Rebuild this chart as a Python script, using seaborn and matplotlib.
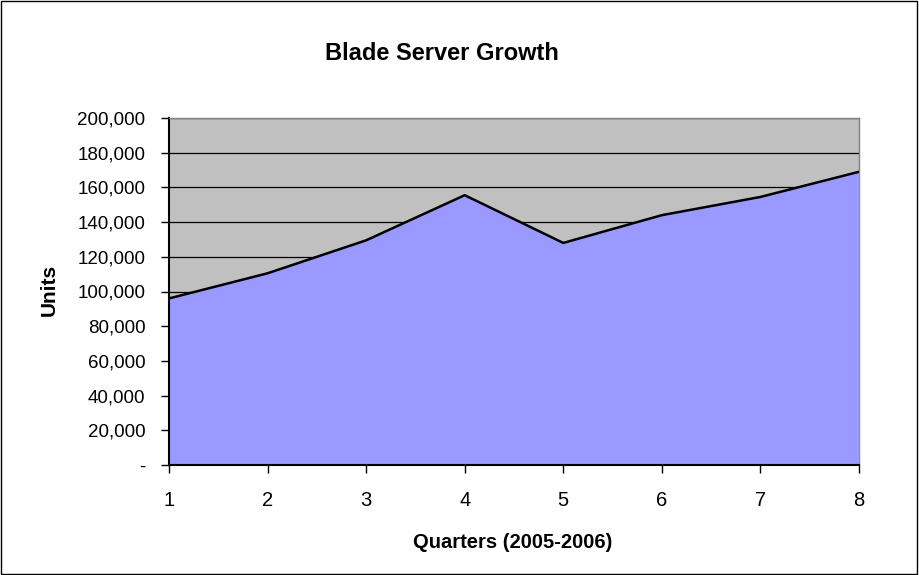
import matplotlib
matplotlib.use("Agg")
import matplotlib.pyplot as plt
import matplotlib.ticker as mticker
import seaborn as sns
import pandas as pd

# ── Data ──────────────────────────────────────────────────────────────────────
QUARTERS = [1, 2, 3, 4, 5, 6, 7, 8]
UNITS = [96000, 110500, 129500, 155500, 128000, 144000, 154500, 169000]
Y_TICKS = [0, 20000, 40000, 60000, 80000, 100000, 120000, 140000, 160000, 180000, 200000]

AREA_COLOR = "#9999FF"
PLOT_BG = "#C0C0C0"

sns.set_style("white")
plt.rcParams["font.family"] = ["Liberation Sans", "DejaVu Sans"]

df = pd.DataFrame({"quarter": QUARTERS, "units": UNITS})

fig = plt.figure(figsize=(9.19, 5.75), dpi=100)
ax = fig.add_axes([169 / 919, 110 / 575, 690 / 919, 347 / 575])
ax.set_facecolor(PLOT_BG)

ax.fill_between(df["quarter"], df["units"], 0, color=AREA_COLOR, zorder=2, linewidth=0)
sns.lineplot(data=df, x="quarter", y="units", color="black", linewidth=1.8, ax=ax, zorder=3)

ax.set_xlim(1, 8)
ax.set_ylim(0, 200000)
ax.set_xticks(QUARTERS)
ax.set_yticks(Y_TICKS)
ax.yaxis.set_major_formatter(
    mticker.FuncFormatter(lambda v, _: "-" if v == 0 else f"{int(v):,}")
)
for y in Y_TICKS[1:]:
    ax.axhline(y, color="black", linewidth=0.9, zorder=1)

ax.tick_params(axis="both", which="both", direction="out", length=6, width=1,
               color="black", labelcolor="black", pad=11, left=True, bottom=True)
ax.tick_params(axis="y", labelsize=13.5)
ax.tick_params(axis="x", labelsize=14.5, pad=13)

for side in ["top", "right"]:
    ax.spines[side].set_color("#808080")
    ax.spines[side].set_linewidth(1)
for side in ["left", "bottom"]:
    ax.spines[side].set_color("black")
    ax.spines[side].set_linewidth(1.5)
ax.spines["right"].set_zorder(1)

ax.set_xlabel("")
ax.set_ylabel("")
fig.text(442 / 919, 1 - 54 / 575, "Blade Server Growth", ha="center", va="center",
         fontsize=17, fontweight="bold", color="black")
fig.text(513 / 919, 1 - 543 / 575, "Quarters (2005-2006)", ha="center", va="center",
         fontsize=14.5, fontweight="bold", color="black")
fig.text(49 / 919, 1 - 290 / 575, "Units", ha="center", va="center",
         rotation=90, fontsize=15, fontweight="bold", color="black")

# outer chart border
fig.patches.append(plt.Rectangle((0.001, 0.001), 0.997, 0.997, transform=fig.transFigure,
                                 fill=False, edgecolor="black", linewidth=1))

fig.savefig("out.png", dpi=100)
